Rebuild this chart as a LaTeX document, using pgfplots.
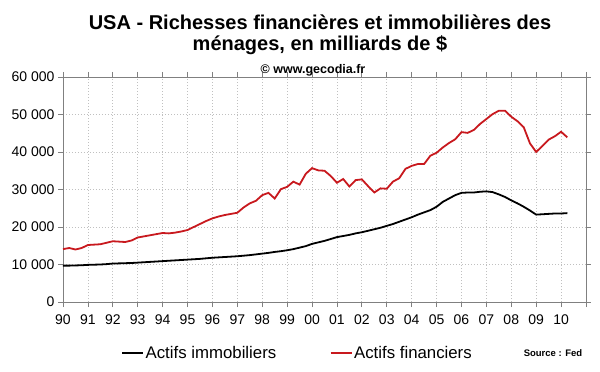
\documentclass[border=0pt]{standalone}
\usepackage{pgfplots}
\pgfplotsset{compat=1.18}
\usepackage{fontspec}
\setmainfont{Liberation Sans}
\definecolor{redline}{RGB}{200,25,30}
\definecolor{axgray}{RGB}{128,128,128}
\definecolor{gridgray}{RGB}{192,192,192}

\begin{document}
\begin{tikzpicture}
\begin{axis}[
  at={(0pt,0pt)}, anchor=south west,
  scale only axis,
  width=523pt, height=225pt,
  xmin=1990, xmax=2011,
  ymin=0, ymax=60000,
  scaled y ticks=false,
  xtick={1990,1991,...,2011},
  xticklabels={90,91,92,93,94,95,96,97,98,99,00,01,02,03,04,05,06,07,08,09,10,{}},
  ytick={0,10000,20000,30000,40000,50000,60000},
  yticklabels={0,10 000,20 000,30 000,40 000,50 000,60 000},
  tick align=outside,
  major tick length=5pt,
  tick style={axgray, line width=0.8pt},
  axis line style={axgray, line width=0.8pt},
  xmajorgrids=true, ymajorgrids=true,
  major grid style={gridgray, dash pattern=on 1pt off 2pt, line width=0.8pt},
  xticklabel style={font=\fontsize{14}{16}\selectfont, yshift=-4pt},
  yticklabel style={font=\fontsize{14}{16}\selectfont},
  /pgf/number format/assume math mode=true,
  legend style={draw=none, fill=none, at={(0.448,-0.227)}, anchor=center,
    font=\fontsize{16.8}{18}\selectfont, legend columns=2,
    /tikz/every even column/.append style={column sep=52pt},
    inner sep=0pt, nodes={inner sep=1.5pt}},
  legend image code/.code={\draw[#1] (0pt,0pt) -- (21pt,0pt);},
]
\addplot[black, line width=1.8pt] coordinates {
(1990.00,9700) (1990.25,9700) (1990.50,9750) (1990.75,9800)
(1991.00,9900) (1991.25,9950) (1991.50,10000) (1991.75,10100)
(1992.00,10250) (1992.25,10300) (1992.50,10350) (1992.75,10400)
(1993.00,10500) (1993.25,10600) (1993.50,10700) (1993.75,10800)
(1994.00,10900) (1994.25,11000) (1994.50,11100) (1994.75,11200)
(1995.00,11300) (1995.25,11400) (1995.50,11500) (1995.75,11650)
(1996.00,11800) (1996.25,11900) (1996.50,12000) (1996.75,12100)
(1997.00,12200) (1997.25,12350) (1997.50,12500) (1997.75,12700)
(1998.00,12900) (1998.25,13100) (1998.50,13350) (1998.75,13550)
(1999.00,13800) (1999.25,14100) (1999.50,14500) (1999.75,14900)
(2000.00,15500) (2000.25,15900) (2000.50,16300) (2000.75,16800)
(2001.00,17300) (2001.25,17600) (2001.50,17900) (2001.75,18300)
(2002.00,18600) (2002.25,19000) (2002.50,19400) (2002.75,19800)
(2003.00,20300) (2003.25,20800) (2003.50,21400) (2003.75,22000)
(2004.00,22600) (2004.25,23300) (2004.50,23900) (2004.75,24500)
(2005.00,25400) (2005.25,26700) (2005.50,27600) (2005.75,28500)
(2006.00,29100) (2006.25,29200) (2006.50,29200) (2006.75,29400)
(2007.00,29500) (2007.25,29300) (2007.50,28700) (2007.75,28000)
(2008.00,27100) (2008.25,26300) (2008.50,25400) (2008.75,24400)
(2009.00,23300) (2009.25,23400) (2009.50,23500) (2009.75,23600)
(2010.00,23600) (2010.25,23700)
};
\addlegendentry{Actifs immobiliers}
\addplot[redline, line width=1.8pt] coordinates {
(1990.00,14100) (1990.25,14400) (1990.50,14000) (1990.75,14400)
(1991.00,15200) (1991.25,15300) (1991.50,15400) (1991.75,15800)
(1992.00,16200) (1992.25,16100) (1992.50,16000) (1992.75,16400)
(1993.00,17200) (1993.25,17500) (1993.50,17800) (1993.75,18100)
(1994.00,18400) (1994.25,18300) (1994.50,18500) (1994.75,18800)
(1995.00,19200) (1995.25,20000) (1995.50,20800) (1995.75,21600)
(1996.00,22300) (1996.25,22800) (1996.50,23200) (1996.75,23500)
(1997.00,23800) (1997.25,25200) (1997.50,26300) (1997.75,27000)
(1998.00,28500) (1998.25,29100) (1998.50,27600) (1998.75,30100)
(1999.00,30700) (1999.25,32100) (1999.50,31300) (1999.75,34200)
(2000.00,35700) (2000.25,35100) (2000.50,35000) (2000.75,33600)
(2001.00,31800) (2001.25,32800) (2001.50,30800) (2001.75,32500)
(2002.00,32700) (2002.25,30900) (2002.50,29200) (2002.75,30300)
(2003.00,30200) (2003.25,32100) (2003.50,33000) (2003.75,35500)
(2004.00,36300) (2004.25,36800) (2004.50,36800) (2004.75,39000)
(2005.00,39800) (2005.25,41200) (2005.50,42400) (2005.75,43400)
(2006.00,45300) (2006.25,45100) (2006.50,45900) (2006.75,47500)
(2007.00,48800) (2007.25,50100) (2007.50,51000) (2007.75,51000)
(2008.00,49400) (2008.25,48200) (2008.50,46600) (2008.75,42300)
(2009.00,40000) (2009.25,41600) (2009.50,43300) (2009.75,44200)
(2010.00,45400) (2010.25,43900)
};
\addlegendentry{Actifs financiers}
\end{axis}
\node[anchor=base, inner sep=0pt, font=\bfseries\fontsize{20}{24}\selectfont] at (257pt,272.5pt) {USA - Richesses financières et immobilières des};
\node[anchor=base, inner sep=0pt, font=\bfseries\fontsize{20}{24}\selectfont] at (257pt,251pt) {ménages, en milliards de \$};
\node[anchor=base, inner sep=0pt, font=\bfseries\fontsize{12.5}{14}\selectfont] at (250pt,228pt) {© www.gecodia.fr};
\node[font=\bfseries\fontsize{9.5}{11}\selectfont] at (490pt,-51pt) {Source : Fed};
\path (-63pt,-70pt) rectangle (537pt,302pt);
\end{tikzpicture}
\end{document}
